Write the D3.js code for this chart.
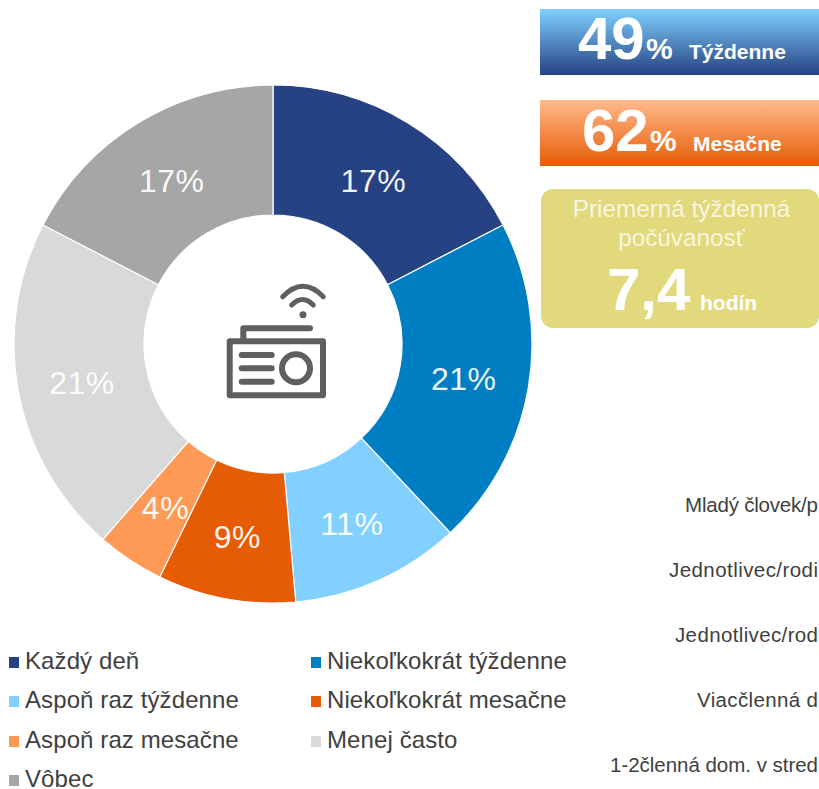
<!DOCTYPE html>
<html><head><meta charset="utf-8">
<style>html,body{margin:0;padding:0;background:#fff;overflow:hidden}svg{display:block}text{font-family:"Liberation Sans",Arial,sans-serif}</style>
<script src="https://cdn.jsdelivr.net/npm/d3@7/dist/d3.min.js"></script>
</head><body><svg id="c" width="819" height="789"></svg>
<script>
const categories=["Každý deň","Niekoľkokrát týždenne","Aspoň raz týždenne","Niekoľkokrát mesačne","Aspoň raz mesačne","Menej často","Vôbec"];
const values=[17.4,20.6,10.6,8.6,4.2,21.2,17.4];
const valueLabels=["17%","21%","11%","9%","4%","21%","17%"];
const colors=["#264283","#007ec4","#82d0ff","#e65c04","#ff9a56","#d9d9d9","#a6a6a6"];
const sideLabels=["Mladý človek/p","Jednotlivec/rodi","Jednotlivec/rod","Viacčlenná d","1-2členná dom. v stred"];
const sideX=[685,669,675,697,610];
const sideY=[505,570,635,700,765];

const svg=d3.select("#c");
const defs=svg.append("defs");
function grad(id,a,b){const g=defs.append("linearGradient").attr("id",id).attr("x1",0).attr("x2",0).attr("y1",0).attr("y2",1);
 g.append("stop").attr("offset",0).attr("stop-color",a);g.append("stop").attr("offset",1).attr("stop-color",b);}
grad("gb","#7fd0ff","#264283");grad("go","#ffb98c","#e65c04");

// donut
const cx=273,cy=344;
const pie=d3.pie().sort(null).value(d=>d)(values);
const arc=d3.arc().innerRadius(129).outerRadius(259);
const g=svg.append("g").attr("transform",`translate(${cx},${cy})`);
g.selectAll("path").data(pie).join("path").attr("d",arc).attr("fill",(d,i)=>colors[i]).attr("stroke","#fff").attr("stroke-width",1.2);
g.selectAll("text").data(pie).join("text").attr("transform",d=>{const c=arc.centroid(d);return `translate(${c[0]-0.5},${c[1]+2})`;})
 .attr("text-anchor","middle").attr("dy","0.36em").attr("font-size",32).attr("letter-spacing",0.5).attr("fill","#fff").attr("fill-opacity",0.94).text((d,i)=>valueLabels[i]);

// radio icon
const ic=svg.append("g").attr("fill","none").attr("stroke","#5f5f5f").attr("stroke-width",6).attr("stroke-linecap","round").attr("stroke-linejoin","round");
ic.append("rect").attr("x",229.7).attr("y",341.3).attr("width",93.3).attr("height",54);
ic.append("path").attr("d","M243.3 340V328.3H310");
ic.append("path").attr("d","M241.7 355H271.7M241.7 368.3H271.7M241.7 381.7H271.7");
ic.append("circle").attr("cx",296).attr("cy",368.3).attr("r",14);
ic.append("path").attr("stroke-width",5).attr("d","M291.7 305Q302.5 294 313.3 305M282.7 296.7Q303 276 323.3 296.7");
ic.append("circle").attr("cx",303).attr("cy",314.7).attr("r",3.5).attr("fill","#5f5f5f").attr("stroke","none");

// legend
const legX=[9,311],legY=[662,701,741,780];
categories.forEach((c,i)=>{
 const x=legX[i%2],y=legY[Math.floor(i/2)];
 svg.append("rect").attr("x",x).attr("y",y-5).attr("width",10).attr("height",11).attr("fill",colors[i]);
 svg.append("text").attr("x",x+16).attr("y",y+7).attr("font-size",24).attr("letter-spacing",0.1).attr("fill","#404040").text(c);
});

// KPI boxes
svg.append("rect").attr("x",540).attr("y",9).attr("width",279).attr("height",66).attr("fill","url(#gb)");
svg.append("rect").attr("x",540).attr("y",100).attr("width",279).attr("height",66).attr("fill","url(#go)");
svg.append("rect").attr("x",541).attr("y",189).attr("width",278).attr("height",139).attr("rx",12).attr("fill","#e1d97c");
function t(x,y,s,fs,b,an,op){svg.append("text").attr("x",x).attr("y",y).attr("font-size",fs).attr("font-weight",b?"bold":"normal").attr("fill","#fff").attr("fill-opacity",op||1).attr("text-anchor",an||"start").text(s);}
t(578,59,"49",60,1);t(646,59,"%",30,1);t(689,59,"Týždenne",21,1);
t(582,151,"62",60,1);t(650,151,"%",30,1);t(693,151,"Mesačne",21,1);
t(681.5,217,"Priemerná týždenná",24.3,0,"middle",0.78);t(681.5,246,"počúvanosť",24.3,0,"middle",0.78);
t(607,310,"7,4",60,1);t(700,310,"hodín",21,1);

// side labels, running up to the right edge as in the reference
sideLabels.forEach((s,i)=>svg.append("text").attr("x",sideX[i]).attr("y",sideY[i]+7).attr("font-size",20.5).attr("fill","#404040")
 .attr("textLength",818-sideX[i]).attr("lengthAdjust","spacing").text(s));
</script></body></html>
